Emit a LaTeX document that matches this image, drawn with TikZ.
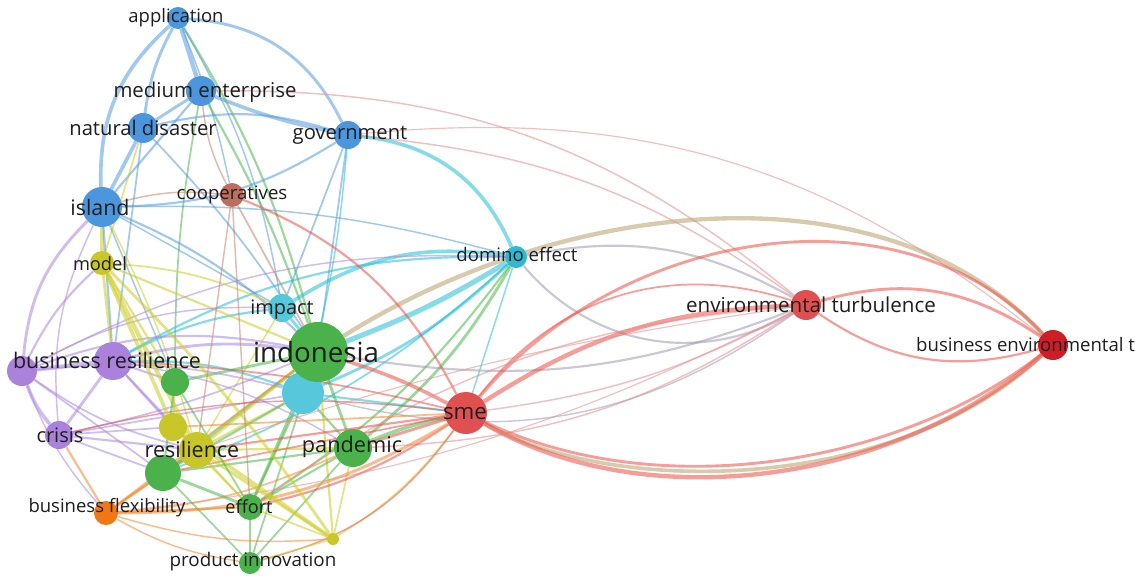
\documentclass[tikz,border=0pt]{standalone}
\usepackage{fontspec}
\newfontfamily\osans{Open Sans}
\usetikzlibrary{backgrounds}
\definecolor{cBlue}{RGB}{75,150,220}
\definecolor{cCyan}{RGB}{45,185,210}
\definecolor{cGreen}{RGB}{75,178,75}
\definecolor{cRed}{RGB}{225,80,80}
\definecolor{cDRed}{RGB}{205,30,40}
\definecolor{cBrown}{RGB}{190,110,95}
\definecolor{cYel}{RGB}{200,198,40}
\definecolor{cPur}{RGB}{170,130,220}
\definecolor{cOra}{RGB}{240,120,20}
\definecolor{eBlue}{RGB}{85,155,225}
\definecolor{eCyan}{RGB}{35,190,215}
\definecolor{eGreen}{RGB}{75,185,75}
\definecolor{eRed}{RGB}{238,80,70}
\definecolor{ePink}{RGB}{230,140,140}
\definecolor{eYel}{RGB}{205,205,35}
\definecolor{ePur}{RGB}{170,135,228}
\definecolor{eOra}{RGB}{245,135,45}
\definecolor{eBrown}{RGB}{200,130,105}
\definecolor{eOlive}{RGB}{185,160,105}
\definecolor{eGrey}{RGB}{160,155,180}
\definecolor{labc}{RGB}{30,30,30}
\newcommand\labfont[1]{\osans\fontsize{#1}{#1}\selectfont}
\tikzset{
  kw/.style 2 args={circle, fill=#1, minimum size=#2, inner sep=0pt},
  lab/.style={text=labc, inner sep=0pt, font=\labfont{#1}},
  lk/.style 2 args={draw=#1, line width={1.45*#2}, draw opacity=0.55},
}
\begin{document}
\begin{tikzpicture}[x=1pt,y=-1pt]
\useasboundingbox (0,0) rectangle (1135,576);
% nodes
\node[kw={cBlue}{22}] (app) at (178,18) {};
\node[kw={cBlue}{30}] (med) at (201,91) {};
\node[kw={cBlue}{30}] (nat) at (143,128) {};
\node[kw={cBlue}{28}] (gov) at (348,135) {};
\node[kw={cBlue}{40}] (isl) at (102,207) {};
\node[kw={cBrown}{24}] (coop) at (232,195) {};
\node[kw={cYel}{24}] (model) at (102,263) {};
\node[kw={cCyan}{22}] (dom) at (516,257) {};
\node[kw={cCyan!80}{28}] (imp) at (282,308) {};
\node[kw={cCyan!80}{42}] (cyb) at (303,393) {};
\node[kw={cGreen}{60}] (indo) at (318,352) {};
\node[kw={cRed}{30}] (et) at (806,305) {};
\node[kw={cDRed}{30}] (bet) at (1053,345) {};
\node[kw={cPur}{38}] (br) at (113,361) {};
\node[kw={cPur}{30}] (brl) at (22,371) {};
\node[kw={cGreen}{28}] (g1) at (175,382) {};
\node[kw={cPur}{28}] (crisis) at (59,435) {};
\node[kw={cYel}{28}] (y1) at (173,427) {};
\node[kw={cYel}{36}] (res) at (197,450) {};
\node[kw={cGreen}{36}] (g2) at (163,473) {};
\node[kw={cGreen}{38}] (pan) at (353,448) {};
\node[kw={cOra}{24}] (bflex) at (106,513) {};
\node[kw={cGreen}{26}] (eff) at (250,507) {};
\node[kw={cGreen}{22}] (prod) at (250,563) {};
\node[kw={cYel}{12}] (ys) at (333,539) {};
\node[kw={cRed}{42}] (sme) at (466,413) {};
% labels
\node[lab=18.5] (app-l) at (176,18) {application};
\node[lab=20.4] (med-l) at (205,92) {medium enterprise};
\node[lab=20.2] (nat-l) at (143,128) {natural disaster};
\node[lab=20.2] (gov-l) at (350,135) {government};
\node[lab=21.4] (isl-l) at (100,207) {island};
\node[lab=18.6] (coop-l) at (232,195) {cooperatives};
\node[lab=18.2] (model-l) at (100,264) {model};
\node[lab=18.6] (dom-l) at (517,254) {domino effect};
\node[lab=19.9] (imp-l) at (282,310) {impact};
\node[lab=27.7] (indo-l) at (316,352) {indonesia};
\node[lab=21.5] (br-l) at (107,360) {business resilience};
\node[lab=20] (crisis-l) at (60,435) {crisis};
\node[lab=21.5] (res-l) at (192,449) {resilience};
\node[lab=21.7] (pan-l) at (352,447) {pandemic};
\node[lab=18.5] (bflex-l) at (107,508) {business flexibility};
\node[lab=18.1] (eff-l) at (249,507) {effort};
\node[lab=18.8] (prod-l) at (253,562) {product innovation};
\node[lab=20.6] (et-l) at (811,305) {environmental turbulence};
\node[lab=18.6, anchor=west] (bet-l) at (916,345) {business environmental t};
\node[lab=22.3] (sme-l) at (465,414) {sme};
\begin{pgfonlayer}{background}
\fill[white] (0,0) rectangle (1135,576);
% blue cluster
\draw[lk={eBlue}{3}] (app) -- (med);
\draw[lk={eBlue}{2}] (app) to[bend right=10] (nat);
\draw[lk={eBlue}{2.5}] (app) to[bend right=25] (isl);
\draw[lk={eBlue}{2}] (app) to[bend left=30] (gov);
\draw[lk={eGreen}{1.5}] (app) to[bend left=8] (indo);
\draw[lk={eBlue}{1}] (app) to[bend left=5] (coop);
\draw[lk={eBlue}{1}] (app) to[bend left=10] (imp);
\draw[lk={eBlue}{2.5}] (med) to[bend right=5] (gov);
\draw[lk={eBlue}{2}] (med) -- (nat);
\draw[lk={eBlue}{1.5}] (med) -- (isl);
\draw[lk={eGreen}{1.5}] (med) to[bend left=5] (indo);
\draw[lk={eGreen}{1.2}] (med) to[bend right=5] (g1);
\draw[lk={ePink}{1}] (med) to[bend left=20] (et);
\draw[lk={eBlue}{2.5}] (nat) -- (isl);
\draw[lk={eBlue}{1.5}] (nat) to[bend left=15] (gov);
\draw[lk={eBlue}{1.2}] (nat) to[bend left=5] (indo);
\draw[lk={eBlue}{1.2}] (nat) -- (br);
\draw[lk={eYel}{1.2}] (nat) -- (model);
\draw[lk={eCyan}{2.5}] (gov) to[bend left=30] (dom);
\draw[lk={eBlue}{1.5}] (gov) to[bend left=15] (isl);
\draw[lk={eBlue}{1.2}] (gov) -- (indo);
\draw[lk={eBlue}{1.2}] (gov) -- (imp);
\draw[lk={eCyan}{1}] (gov) to[bend left=5] (cyb);
\draw[lk={ePink}{1}] (gov) to[bend left=15] (et);
\draw[lk={ePink}{0.8}] (gov) to[bend left=22] (bet);
\draw[lk={eYel}{3}] (isl) -- (model);
\draw[lk={ePur}{2}] (isl) to[bend right=20] (brl);
\draw[lk={eBlue}{1.5}] (isl) -- (br);
\draw[lk={eBlue}{1.5}] (isl) to[bend left=10] (indo);
\draw[lk={eBlue}{1}] (isl) to[bend left=8] (dom);
\draw[lk={ePur}{1}] (isl) to[bend right=15] (crisis);
\draw[lk={eBlue}{1}] (isl) -- (g1);
\draw[lk={eYel}{1}] (isl) to[bend left=5] (res);
% cyan
\draw[lk={eCyan}{3.5}] (dom) to[bend left=5] (indo);
\draw[lk={eCyan}{2.5}] (dom) to[bend right=20] (imp);
\draw[lk={eCyan}{2}] (dom) to[bend left=10] (cyb);
\draw[lk={eCyan}{1.5}] (dom) to[bend right=15] (br);
\draw[lk={eCyan}{1.2}] (dom) to[bend left=10] (g2);
\draw[lk={eGreen}{2}] (dom) to[bend left=10] (pan);
\draw[lk={eCyan}{1}] (dom) -- (sme);
\draw[lk={eGreen}{1.5}] (dom) to[bend left=10] (eff);
\draw[lk={eGrey}{1.5}] (dom) to[bend right=40] (et);
\draw[lk={eGrey}{1.5}] (dom) to[bend left=20] (et);
\draw[lk={eCyan}{2}] (imp) -- (indo);
\draw[lk={eBlue}{1}] (imp) -- (isl);
\draw[lk={eCyan}{1.5}] (imp) to[bend right=10] (br);
\draw[lk={eYel}{1}] (imp) -- (res);
% green/center
\draw[lk={eCyan}{3}] (indo) -- (cyb);
\draw[lk={eGreen}{2}] (indo) -- (pan);
\draw[lk={eRed}{2.5}] (indo) to[bend left=5] (sme);
\draw[lk={eGreen}{2}] (indo) -- (eff);
\draw[lk={eGreen}{2}] (indo) -- (g1);
\draw[lk={eGreen}{2}] (indo) -- (g2);
\draw[lk={eYel}{2}] (indo) -- (res);
\draw[lk={ePur}{2}] (indo) to[bend right=10] (br);
\draw[lk={ePur}{1.5}] (indo) to[bend right=15] (brl);
\draw[lk={ePur}{1.2}] (indo) to[bend left=5] (crisis);
\draw[lk={eOra}{1.2}] (indo) -- (bflex);
\draw[lk={eGreen}{1.2}] (indo) -- (prod);
\draw[lk={eYel}{1.5}] (indo) -- (ys);
\draw[lk={eGrey}{1.5}] (indo) to[bend right=15] (et);
\draw[lk={eOlive}{3}] (indo) .. controls (560,200) and (880,160) .. (bet);
\draw[lk={eYel}{1.5}] (indo) -- (model);
\draw[lk={eBrown}{1.2}] (indo) -- (coop);
\draw[lk={eGreen}{1.5}] (cyb) -- (pan);
\draw[lk={eCyan}{1.5}] (cyb) -- (sme);
\draw[lk={eGreen}{1.5}] (cyb) -- (eff);
\draw[lk={eYel}{1.5}] (cyb) -- (res);
\draw[lk={eGreen}{1.5}] (cyb) -- (g2);
\draw[lk={eCyan}{1.5}] (cyb) to[bend right=10] (br);
\draw[lk={ePur}{1.2}] (cyb) to[bend right=10] (brl);
\draw[lk={ePur}{1.2}] (cyb) -- (crisis);
\draw[lk={eGrey}{1}] (cyb) to[bend right=25] (et);
\draw[lk={eRed}{2}] (pan) -- (sme);
\draw[lk={eGreen}{1.5}] (pan) -- (eff);
\draw[lk={eGreen}{1.2}] (pan) -- (prod);
\draw[lk={eYel}{1.2}] (pan) -- (ys);
\draw[lk={eGreen}{1.5}] (pan) -- (g2);
\draw[lk={eYel}{1.5}] (pan) -- (res);
\draw[lk={ePur}{1}] (pan) to[bend right=10] (br);
\draw[lk={eOra}{1.2}] (pan) to[bend left=10] (bflex);
\draw[lk={ePink}{1}] (pan) to[bend right=15] (et);
\draw[lk={eGreen}{2.5}] (pan) to[bend left=5] (sme);
\draw[lk={eOlive}{2.5}] (sme) .. controls (620,500) and (900,490) .. (bet);
% red
\draw[lk={eRed}{3}] (sme) to[bend left=15] (et);
\draw[lk={eRed}{1.2}] (sme) to[bend left=35] (et);
\draw[lk={ePink}{1}] (sme) to[bend right=10] (et);
\draw[lk={eRed}{2}] (sme) .. controls (620,230) and (900,180) .. (bet);
\draw[lk={eRed}{3}] (sme) .. controls (650,520) and (900,480) .. (bet);
\draw[lk={eRed}{2}] (sme) .. controls (660,505) and (900,465) .. (bet);
\draw[lk={eRed}{1.5}] (coop) to[bend left=20] (sme);
\draw[lk={eRed}{1.5}] (sme) to[bend left=10] (eff);
\draw[lk={eOra}{2}] (bflex) to[bend right=15] (sme);
\draw[lk={eRed}{1.5}] (sme) -- (res);
\draw[lk={eRed}{1.2}] (sme) -- (g2);
\draw[lk={eRed}{1}] (sme) to[bend right=10] (crisis);
\draw[lk={eRed}{1.2}] (sme) to[bend right=5] (br);
\draw[lk={eOra}{1.2}] (sme) -- (y1);
\draw[lk={eYel}{1}] (sme) to[bend left=10] (ys);
\draw[lk={eRed}{1}] (sme) to[bend left=20] (prod);
\draw[lk={eRed}{2}] (et) to[bend left=25] (bet);
\draw[lk={eRed}{1.5}] (et) to[bend right=25] (bet);
\draw[lk={ePink}{1}] (et) to[bend right=15] (eff);
\draw[lk={ePink}{0.8}] (et) to[bend left=10] (bflex);
\draw[lk={ePink}{0.8}] (et) to[bend right=5] (res);
% purple
\draw[lk={ePur}{3}] (br) -- (brl);
\draw[lk={ePur}{2}] (br) -- (crisis);
\draw[lk={ePur}{2.5}] (brl) to[bend right=10] (crisis);
\draw[lk={ePur}{1.5}] (br) -- (g1);
\draw[lk={ePur}{1.5}] (br) -- (res);
\draw[lk={ePur}{1.5}] (br) -- (y1);
\draw[lk={eYel}{2}] (br) -- (model);
\draw[lk={ePur}{1.5}] (brl) to[bend left=10] (model);
\draw[lk={ePur}{1.2}] (brl) to[bend right=10] (res);
\draw[lk={ePur}{1.2}] (brl) -- (g2);
\draw[lk={ePur}{1}] (brl) to[bend right=10] (bflex);
\draw[lk={ePur}{1}] (brl) to[bend left=15] (imp);
\draw[lk={ePur}{1}] (brl) to[bend left=15] (dom);
\draw[lk={eOra}{1.5}] (crisis) -- (bflex);
\draw[lk={ePur}{1.5}] (crisis) -- (res);
\draw[lk={ePur}{1.2}] (crisis) -- (g2);
\draw[lk={ePur}{1.2}] (crisis) -- (y1);
% yellow & rest
\draw[lk={eYel}{3}] (model) -- (res);
\draw[lk={eYel}{2.5}] (model) -- (y1);
\draw[lk={eYel}{2}] (model) to[bend left=5] (ys);
\draw[lk={eYel}{1.5}] (model) -- (g1);
\draw[lk={eYel}{1.2}] (model) to[bend left=10] (imp);
\draw[lk={eYel}{2}] (res) -- (y1);
\draw[lk={eYel}{2}] (res) -- (ys);
\draw[lk={eYel}{1.5}] (res) -- (eff);
\draw[lk={eGreen}{2}] (res) -- (g2);
\draw[lk={eOra}{1.5}] (res) -- (bflex);
\draw[lk={eYel}{2.5}] (y1) -- (ys);
\draw[lk={eYel}{1.5}] (y1) -- (g1);
\draw[lk={eYel}{1.2}] (y1) -- (eff);
\draw[lk={eOra}{1.5}] (g2) -- (bflex);
\draw[lk={eGreen}{2}] (g2) -- (eff);
\draw[lk={eGreen}{1.2}] (g2) -- (prod);
\draw[lk={eGreen}{1.5}] (g2) -- (g1);
\draw[lk={eGreen}{1.2}] (g1) -- (eff);
\draw[lk={eGreen}{1.5}] (eff) -- (prod);
\draw[lk={eYel}{1.2}] (eff) -- (ys);
\draw[lk={eOra}{1.5}] (bflex) -- (eff);
\draw[lk={eOra}{1}] (bflex) to[bend right=10] (prod);
\draw[lk={eOra}{1}] (bflex) to[bend right=10] (ys);
\draw[lk={eYel}{1}] (prod) -- (ys);
\draw[lk={eBrown}{1}] (coop) to[bend right=10] (isl);
\draw[lk={eBrown}{1}] (coop) -- (res);
\draw[lk={eBrown}{1}] (coop) -- (eff);
\draw[lk={eBrown}{1}] (coop) to[bend left=10] (med);
\end{pgfonlayer}
\end{tikzpicture}
\end{document}
